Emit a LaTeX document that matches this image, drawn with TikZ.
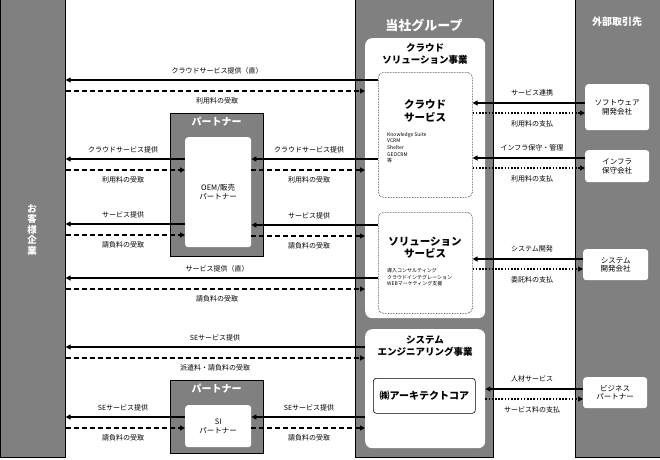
\documentclass[tikz,border=0pt]{standalone}
\usepackage{fontspec}
\setmainfont{Noto Sans CJK JP}
\usetikzlibrary{arrows.meta}
\definecolor{colgray}{RGB}{128,128,128}

\begin{document}
\begin{tikzpicture}[x=1pt,y=-1pt,
	col/.style={draw=black,fill=colgray,line width=.6pt,anchor=north west,inner sep=0},
	panel/.style={fill=white,rounded corners=7pt,anchor=north west,inner sep=0},
	svcbox/.style={draw=black,densely dotted,line width=.6pt,rounded corners=5pt,anchor=north west,inner sep=0},
	firm/.style={fill=white,rounded corners=3pt,anchor=north west,inner sep=0,align=center,font=\fontsize{7.5}{8.5}\selectfont},
	ptrbox/.style={draw=black,fill=colgray,line width=.8pt,anchor=north west,inner sep=0},
	head/.style={text=white,font=\bfseries\fontsize{10}{12}\selectfont,inner sep=0},
	ttl/.style={font=\bfseries\fontsize{9.5}{12.5}\selectfont,align=center,inner sep=0},
	lst/.style={font=\fontsize{5}{6.7}\selectfont,align=left,anchor=north west,inner sep=0},
	lbl/.style={font=\fontsize{7}{8}\selectfont,inner sep=0},
	give/.style={line width=1.6pt,-{Triangle[length=5pt,width=5pt]}},
	fee/.style={give,dash pattern=on 5pt off 3pt},
	feedot/.style={give,dash pattern=on 1.6pt off 1.6pt}]
	\useasboundingbox (0,0) rectangle (660,459);

	% columns
	\node[col,minimum width=65pt,minimum height=458pt] (cust) at (0,-1) {};
	\node[col,minimum width=138pt,minimum height=458pt] (grp) at (355,-1) {};
	\node[col,minimum width=87pt,minimum height=458pt] (ext) at (575,-1) {};
	\node[head,align=center,font=\bfseries\fontsize{9.5}{10.5}\selectfont] (custttl) at (32,230) {お\\客\\様\\企\\業};
	\node[head,font=\bfseries\fontsize{13}{15}\selectfont] (grpttl) at (424,25) {当社グループ};
	\node[head] (extttl) at (617,22) {外部取引先};

	% own group
	\node[panel,minimum width=120pt,minimum height=280pt] (cloudsol) at (365,38) {};
	\node[ttl] (cloudsolttl) at (425,54) {クラウド\\ソリューション事業};
	\node[svcbox,minimum width=94pt,minimum height=125pt] (cloudsvc) at (378,72) {};
	\node[ttl,font=\bfseries\fontsize{10.5}{13}\selectfont] (cloudsvcttl) at (425,110.5) {クラウド\\サービス};
	\node[lst] (cloudlst) at (387,132) {Knowledge Suite\\VCRM\\Shelter\\GEOCRM\\等};
	\node[svcbox,minimum width=94pt,minimum height=101pt] (solsvc) at (378,212) {};
	\node[ttl,font=\bfseries\fontsize{10.5}{11.5}\selectfont] (solsvcttl) at (425,247.5) {ソリューション\\サービス};
	\node[lst] (sollst) at (387,268) {導入コンサルティング\\クラウドインテグレーション\\WEBマーケティング支援};
	\node[panel,minimum width=120pt,minimum height=119pt] (sysbiz) at (365,329) {};
	\node[ttl] (sysbizttl) at (425,346) {システム\\エンジニアリング事業};
	\node[draw=black,line width=.6pt,rounded corners=3pt,fill=white,anchor=north west,inner sep=0,
		minimum width=102pt,minimum height=35pt,font=\bfseries\fontsize{10}{12}\selectfont] (arch) at (373,378) {㈱アーキテクトコア};

	% partners
	\node[ptrbox,minimum width=93pt,minimum height=143pt] (ptr1) at (170,113) {};
	\node[head] (ptr1ttl) at (216.5,122) {パートナー};
	\node[firm,minimum width=66pt,minimum height=110pt] (oem) at (185,137) {OEM/販売\\パートナー};
	\node[ptrbox,minimum width=93pt,minimum height=73pt] (ptr2) at (170,380) {};
	\node[head] (ptr2ttl) at (216.5,389) {パートナー};
	\node[firm,minimum width=66pt,minimum height=42pt] (si) at (185,405) {SI\\パートナー};

	% external partners
	\node[firm,minimum width=64pt,minimum height=46pt] (soft) at (585,84) {ソフトウェア\\開発会社};
	\node[firm,minimum width=64pt,minimum height=32pt] (infra) at (585,150) {インフラ\\保守会社};
	\node[firm,minimum width=65pt,minimum height=31pt] (sysdev) at (583,249) {システム\\開発会社};
	\node[firm,minimum width=64pt,minimum height=31pt] (bizptr) at (583,377) {ビジネス\\パートナー};

	% customer side
	\foreach \y/\a/\b/\c/\mx/\up/\dn in {
		80/cloudsvc/cust/cloudsol/217/クラウドサービス提供（直）/利用料の受取,
		159/oem/cust/oem/123/クラウドサービス提供/利用料の受取,
		159/cloudsvc/oem/cloudsol/309/クラウドサービス提供/利用料の受取,
		224/oem/cust/oem/123/サービス提供/請負料の受取,
		225/solsvc/oem/cloudsol/309/サービス提供/請負料の受取,
		278/solsvc/cust/cloudsol/217/サービス提供（直）/請負料の受取,
		347/sysbiz/cust/sysbiz/215/SEサービス提供/派遣料・請負料の受取,
		417/si/cust/si/123/SEサービス提供/請負料の受取,
		417/sysbiz/si/sysbiz/309/SEサービス提供/請負料の受取}{
		\coordinate (s) at (0,\y);
		\coordinate (f) at (0,\y+11);
		\draw[give] (\a.west |- s) -- (\b.east |- s);
		\draw[fee] (\b.east |- f) -- (\c.west |- f);
		\node[lbl] at (\mx,\y-9.5) {\up};
		\node[lbl] at (\mx,\y+21) {\dn};
	}

	% supplier side
	\foreach \y/\a/\b/\up/\dn in {
		103/soft/cloudsvc/サービス連携/利用料の支払,
		158/infra/cloudsvc/インフラ保守・管理/利用料の支払,
		259/sysdev/solsvc/システム開発/委託料の支払,
		389/bizptr/sysbiz/人材サービス/サービス料の支払}{
		\coordinate (s) at (0,\y);
		\coordinate (f) at (0,\y+10);
		\draw[give] (\a.west |- s) -- (\b.east |- s);
		\draw[feedot] (\b.east |- f) -- (\a.west |- f);
		\node[lbl] at (532,\y-10) {\up};
		\node[lbl] at (532,\y+21) {\dn};
	}
\end{tikzpicture}
\end{document}
